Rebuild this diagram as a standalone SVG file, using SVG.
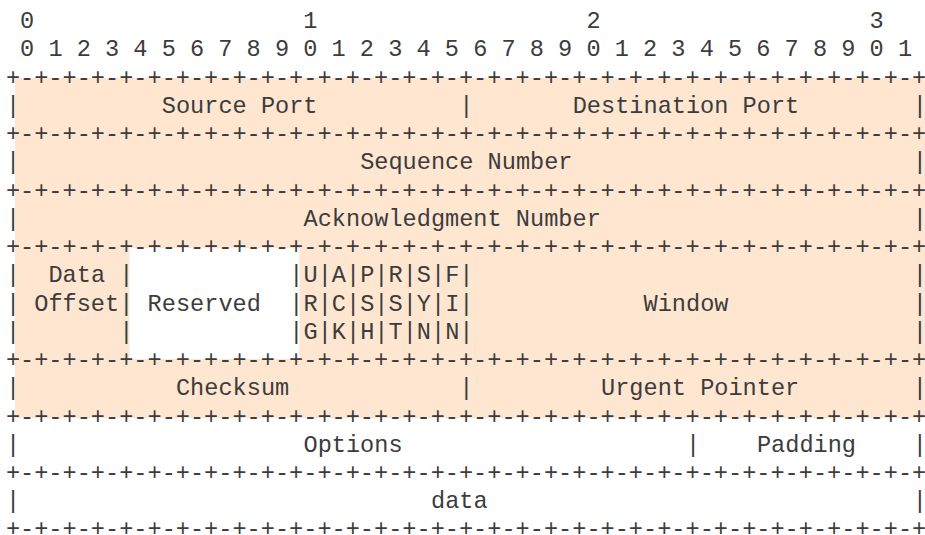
<svg xmlns="http://www.w3.org/2000/svg" width="925" height="535" viewBox="0 0 925 535">
  <style>
    text { font-family: "Liberation Mono", "Courier New", monospace; font-size: 23.6px; fill: #3c3c3c; white-space: pre; }
  </style>
  <rect width="925" height="535" fill="#ffffff"/>

  <!-- shaded fixed header (Reserved left unshaded) -->
  <path id="header-shade" d="M15 78H925V418H15Z M129.5 248H299.5V359H129.5Z" fill="#fee6d1" fill-rule="evenodd"/>

  <!-- bit ruler; columns are 14.17px wide starting at x=5.9, rows 28.25px apart -->
  <g id="bit-ruler">
    <text x="20.07" y="28" xml:space="preserve">0                   1                   2                   3</text>
    <text x="20.07" y="56.25" xml:space="preserve">0 1 2 3 4 5 6 7 8 9 0 1 2 3 4 5 6 7 8 9 0 1 2 3 4 5 6 7 8 9 0 1</text>
  </g>

  <!-- ascii grid: separator rows -->
  <g id="separators">
    <text x="5.9" y="84.5">+-+-+-+-+-+-+-+-+-+-+-+-+-+-+-+-+-+-+-+-+-+-+-+-+-+-+-+-+-+-+-+-+</text>
    <text x="5.9" y="141">+-+-+-+-+-+-+-+-+-+-+-+-+-+-+-+-+-+-+-+-+-+-+-+-+-+-+-+-+-+-+-+-+</text>
    <text x="5.9" y="197.5">+-+-+-+-+-+-+-+-+-+-+-+-+-+-+-+-+-+-+-+-+-+-+-+-+-+-+-+-+-+-+-+-+</text>
    <text x="5.9" y="254">+-+-+-+-+-+-+-+-+-+-+-+-+-+-+-+-+-+-+-+-+-+-+-+-+-+-+-+-+-+-+-+-+</text>
    <text x="5.9" y="367">+-+-+-+-+-+-+-+-+-+-+-+-+-+-+-+-+-+-+-+-+-+-+-+-+-+-+-+-+-+-+-+-+</text>
    <text x="5.9" y="423.5">+-+-+-+-+-+-+-+-+-+-+-+-+-+-+-+-+-+-+-+-+-+-+-+-+-+-+-+-+-+-+-+-+</text>
    <text x="5.9" y="480">+-+-+-+-+-+-+-+-+-+-+-+-+-+-+-+-+-+-+-+-+-+-+-+-+-+-+-+-+-+-+-+-+</text>
    <text x="5.9" y="535.5">+-+-+-+-+-+-+-+-+-+-+-+-+-+-+-+-+-+-+-+-+-+-+-+-+-+-+-+-+-+-+-+-+</text>
  </g>

  <!-- ascii grid: field bars -->
  <g id="bars">
    <text x="5.9" y="112.75">|</text><text x="459.34" y="112.75">|</text><text x="912.78" y="112.75">|</text>
    <text x="5.9" y="169.25">|</text><text x="912.78" y="169.25">|</text>
    <text x="5.9" y="225.75">|</text><text x="912.78" y="225.75">|</text>

    <text x="5.9" y="282.25">|</text><text x="119.26" y="282.25">|</text><text x="289.3" y="282.25">|</text>
    <text x="317.64" y="282.25">|</text><text x="345.98" y="282.25">|</text><text x="374.32" y="282.25">|</text>
    <text x="402.66" y="282.25">|</text><text x="431" y="282.25">|</text><text x="459.34" y="282.25">|</text>
    <text x="912.78" y="282.25">|</text>

    <text x="5.9" y="310.5">|</text><text x="119.26" y="310.5">|</text><text x="289.3" y="310.5">|</text>
    <text x="317.64" y="310.5">|</text><text x="345.98" y="310.5">|</text><text x="374.32" y="310.5">|</text>
    <text x="402.66" y="310.5">|</text><text x="431" y="310.5">|</text><text x="459.34" y="310.5">|</text>
    <text x="912.78" y="310.5">|</text>

    <text x="5.9" y="338.75">|</text><text x="119.26" y="338.75">|</text><text x="289.3" y="338.75">|</text>
    <text x="317.64" y="338.75">|</text><text x="345.98" y="338.75">|</text><text x="374.32" y="338.75">|</text>
    <text x="402.66" y="338.75">|</text><text x="431" y="338.75">|</text><text x="459.34" y="338.75">|</text>
    <text x="912.78" y="338.75">|</text>

    <text x="5.9" y="395.25">|</text><text x="459.34" y="395.25">|</text><text x="912.78" y="395.25">|</text>
    <text x="5.9" y="451.75">|</text><text x="686.06" y="451.75">|</text><text x="912.78" y="451.75">|</text>
    <text x="5.9" y="508.25">|</text><text x="912.78" y="508.25">|</text>
  </g>

  <!-- field labels -->
  <g id="source-port"><text x="161.77" y="112.75">Source Port</text></g>
  <g id="destination-port"><text x="572.7" y="112.75">Destination Port</text></g>
  <g id="sequence-number"><text x="360.15" y="169.25">Sequence Number</text></g>
  <g id="acknowledgment-number"><text x="303.47" y="225.75">Acknowledgment Number</text></g>
  <g id="data-offset">
    <text x="48.41" y="282.25">Data</text>
    <text x="34.24" y="310.5">Offset</text>
  </g>
  <g id="reserved"><text x="147.6" y="310.5">Reserved</text></g>
  <g id="flag-urg"><text x="303.47" y="282.25">U</text><text x="303.47" y="310.5">R</text><text x="303.47" y="338.75">G</text></g>
  <g id="flag-ack"><text x="331.81" y="282.25">A</text><text x="331.81" y="310.5">C</text><text x="331.81" y="338.75">K</text></g>
  <g id="flag-psh"><text x="360.15" y="282.25">P</text><text x="360.15" y="310.5">S</text><text x="360.15" y="338.75">H</text></g>
  <g id="flag-rst"><text x="388.49" y="282.25">R</text><text x="388.49" y="310.5">S</text><text x="388.49" y="338.75">T</text></g>
  <g id="flag-syn"><text x="416.83" y="282.25">S</text><text x="416.83" y="310.5">Y</text><text x="416.83" y="338.75">N</text></g>
  <g id="flag-fin"><text x="445.17" y="282.25">F</text><text x="445.17" y="310.5">I</text><text x="445.17" y="338.75">N</text></g>
  <g id="window"><text x="643.55" y="310.5">Window</text></g>
  <g id="checksum"><text x="175.94" y="395.25">Checksum</text></g>
  <g id="urgent-pointer"><text x="601.04" y="395.25">Urgent Pointer</text></g>
  <g id="options"><text x="303.47" y="451.75">Options</text></g>
  <g id="padding"><text x="756.91" y="451.75">Padding</text></g>
  <g id="data"><text x="431" y="508.25">data</text></g>
</svg>
